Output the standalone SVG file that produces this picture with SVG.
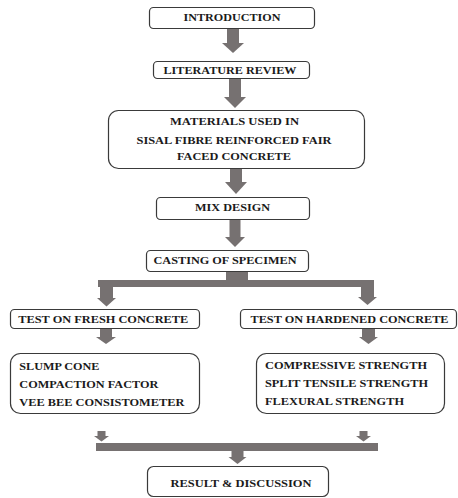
<svg xmlns="http://www.w3.org/2000/svg" width="458" height="498" viewBox="0 0 458 498">
<style>
.box{fill:#fff;stroke:#3a3a3a;stroke-width:1.2}
.t{font-family:"Liberation Serif","Times New Roman",serif;font-weight:bold;font-size:10.5px;fill:#1a1a1a}
.c{text-anchor:middle}
.ar{fill:#767171;stroke:none}
</style>
<rect width="458" height="498" fill="#fff"/>
<g id="connectors">
<rect class="ar" x="227" y="28.5" width="12" height="14.5"/><polygon class="ar" points="222,43 244,43 233,53"/>
<rect class="ar" x="229" y="78.5" width="12" height="18.5"/><polygon class="ar" points="224,97 246,97 235,108"/>
<rect class="ar" x="230" y="168.5" width="12" height="13.5"/><polygon class="ar" points="225,182 247,182 236,194"/>
<rect class="ar" x="229.5" y="219.5" width="11" height="17.5"/><polygon class="ar" points="225,237 245,237 235,247"/>
<rect class="ar" x="226" y="271" width="22" height="10"/>
<rect class="ar" x="98" y="280" width="276" height="7"/>
<rect class="ar" x="100" y="287" width="13" height="11"/><polygon class="ar" points="97,298 116,298 106.5,306.5"/>
<rect class="ar" x="361" y="287" width="13" height="10"/><polygon class="ar" points="358,297 377,297 367.5,305"/>
<rect class="ar" x="100" y="329" width="12" height="8"/><polygon class="ar" points="96,337 116,337 106,344"/>
<rect class="ar" x="362" y="329" width="13" height="8"/><polygon class="ar" points="359,337 378,337 368.5,344"/>
<rect class="ar" x="97.5" y="431" width="8" height="5"/><polygon class="ar" points="94,436 109,436 101.5,441.5"/>
<rect class="ar" x="359.5" y="431" width="8" height="5"/><polygon class="ar" points="356,436 371,436 363.5,441.5"/>
<rect class="ar" x="96" y="443" width="282" height="8"/>
<rect class="ar" x="231.5" y="451" width="12" height="6"/><polygon class="ar" points="228.5,457 246.5,457 237.5,464"/>
</g>
<g id="introduction">
<rect class="box" x="149.5" y="7.5" width="165" height="21" rx="4"/>
<text class="t c" x="232" y="21" textLength="97" lengthAdjust="spacingAndGlyphs">INTRODUCTION</text>
</g>
<g id="literature">
<rect class="box" x="153.5" y="61.5" width="156" height="17" rx="4"/>
<text class="t c" x="230" y="74" textLength="133" lengthAdjust="spacingAndGlyphs">LITERATURE REVIEW</text>
</g>
<g id="materials">
<rect class="box" x="108.5" y="110.5" width="256" height="58" rx="10"/>
<text class="t c" x="234.5" y="124.5" textLength="129" lengthAdjust="spacingAndGlyphs">MATERIALS USED IN</text>
<text class="t c" x="234" y="144" textLength="195" lengthAdjust="spacingAndGlyphs">SISAL FIBRE REINFORCED FAIR</text>
<text class="t c" x="234" y="160" textLength="114" lengthAdjust="spacingAndGlyphs">FACED CONCRETE</text>
</g>
<g id="mixdesign">
<rect class="box" x="156.5" y="197.5" width="153" height="22" rx="4"/>
<text class="t c" x="232.5" y="211" textLength="75" lengthAdjust="spacingAndGlyphs">MIX DESIGN</text>
</g>
<g id="casting">
<rect class="box" x="146.5" y="250.5" width="162" height="21" rx="4"/>
<text class="t c" x="225" y="264" textLength="143" lengthAdjust="spacingAndGlyphs">CASTING OF SPECIMEN</text>
</g>
<g id="fresh">
<rect class="box" x="10.5" y="309.5" width="189" height="19" rx="4"/>
<text class="t c" x="103.3" y="322.5" textLength="170" lengthAdjust="spacingAndGlyphs">TEST ON FRESH CONCRETE</text>
</g>
<g id="hardened">
<rect class="box" x="240.5" y="309.5" width="216" height="19" rx="4"/>
<text class="t c" x="349.5" y="322.5" textLength="198" lengthAdjust="spacingAndGlyphs">TEST ON HARDENED CONCRETE</text>
</g>
<g id="freshtests">
<rect class="box" x="10.5" y="353.5" width="189" height="60" rx="10"/>
<text class="t" x="19.3" y="370" textLength="80" lengthAdjust="spacingAndGlyphs">SLUMP CONE</text>
<text class="t" x="19.3" y="388" textLength="139" lengthAdjust="spacingAndGlyphs">COMPACTION FACTOR</text>
<text class="t" x="19.3" y="405.5" textLength="165" lengthAdjust="spacingAndGlyphs">VEE BEE CONSISTOMETER</text>
</g>
<g id="hardenedtests">
<rect class="box" x="256.5" y="353.5" width="188" height="60" rx="10"/>
<text class="t" x="265" y="369" textLength="162" lengthAdjust="spacingAndGlyphs">COMPRESSIVE STRENGTH</text>
<text class="t" x="265" y="387" textLength="163" lengthAdjust="spacingAndGlyphs">SPLIT TENSILE STRENGTH</text>
<text class="t" x="265" y="404.5" textLength="139" lengthAdjust="spacingAndGlyphs">FLEXURAL STRENGTH</text>
</g>
<g id="result">
<rect class="box" x="147.5" y="466.5" width="181" height="30" rx="6"/>
<text class="t c" x="241" y="486.5" textLength="141" lengthAdjust="spacingAndGlyphs">RESULT &amp; DISCUSSION</text>
</g>
</svg>
